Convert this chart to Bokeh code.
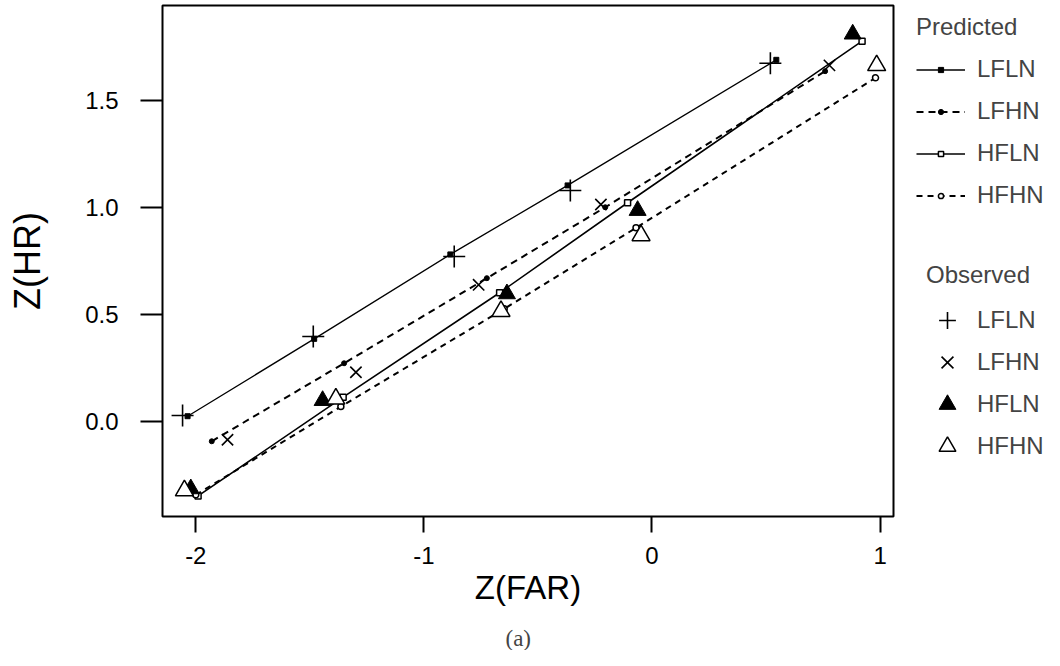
from bokeh.plotting import figure
from bokeh.models import (Range1d, FixedTicker, Legend, LegendItem, Title)
from bokeh.layouts import row
from bokeh.embed import file_html
from bokeh.resources import INLINE

# ---- data ----
series = ["LFLN", "LFHN", "HFLN", "HFHN"]

pred_lfln_x = [-2.036, -1.481, -0.884, -0.370, 0.545]
pred_lfln_y = [0.027, 0.388, 0.782, 1.104, 1.690]
pred_lfhn_x = [-1.930, -1.350, -0.724, -0.205, 0.759]
pred_lfhn_y = [-0.090, 0.274, 0.671, 1.002, 1.637]
pred_hfln_x = [-1.990, -1.354, -0.668, -0.107, 0.921]
pred_hfln_y = [-0.345, 0.116, 0.603, 1.023, 1.777]
pred_hfhn_x = [-2.000, -1.364, -0.648, -0.070, 0.980]
pred_hfhn_y = [-0.340, 0.072, 0.528, 0.906, 1.606]

obs_lfln_x = [-2.058, -1.485, -0.867, -0.358, 0.519]
obs_lfln_y = [0.030, 0.399, 0.772, 1.080, 1.674]
obs_lfhn_x = [-1.861, -1.298, -0.760, -0.224, 0.778]
obs_lfhn_y = [-0.083, 0.232, 0.640, 1.015, 1.664]
obs_hfln_x = [-2.022, -1.444, -0.636, -0.063, 0.880]
obs_hfln_y = [-0.312, 0.100, 0.598, 0.987, 1.810]
obs_hfhn_x = [-2.050, -1.386, -0.662, -0.048, 0.985]
obs_hfhn_y = [-0.320, 0.108, 0.517, 0.870, 1.664]

x_ticks = [-2, -1, 0, 1]
x_tick_labels = ["-2", "-1", "0", "1"]
y_ticks = [0.0, 0.5, 1.0, 1.5]
y_tick_labels = ["0.0", "0.5", "1.0", "1.5"]

pred_data = [(pred_lfln_x, pred_lfln_y), (pred_lfhn_x, pred_lfhn_y),
             (pred_hfln_x, pred_hfln_y), (pred_hfhn_x, pred_hfhn_y)]
obs_data = [(obs_lfln_x, obs_lfln_y), (obs_lfhn_x, obs_lfhn_y),
            (obs_hfln_x, obs_hfln_y), (obs_hfhn_x, obs_hfhn_y)]

# styles
line_styles = [dict(line_color="black", line_width=1.3),
               dict(line_color="black", line_width=2, line_dash="7 5"),
               dict(line_color="black", line_width=1.6),
               dict(line_color="black", line_width=2, line_dash="6 5")]
pred_marker_styles = [dict(marker="square", size=5, color="black"),
                      dict(marker="circle", size=5, color="black"),
                      dict(marker="square", size=6, line_color="black", fill_color="white", line_width=1.5),
                      dict(marker="circle", size=6, line_color="black", fill_color="white", line_width=1.5)]
obs_marker_styles = [dict(marker="cross", size=22, line_color="black", line_width=1.6),
                     dict(marker="x", size=16, line_color="black", line_width=1.6),
                     dict(marker="triangle", size=17, line_color="black", fill_color="black"),
                     dict(marker="triangle", size=18, line_color="black", fill_color="white", line_width=1.5)]

FONT = "Liberation Sans"

p = figure(width=903, height=650, output_backend="svg", toolbar_location=None,
           x_range=Range1d(-2.146, 1.0588), y_range=Range1d(-0.441, 1.9435),
           min_border_left=162, min_border_right=10, min_border_top=5,
           min_border_bottom=134)

p.grid.visible = False
p.outline_line_color = "black"
p.outline_line_width = 2
p.background_fill_color = "white"
p.border_fill_color = "white"

for ax in (p.xaxis[0], p.yaxis[0]):
    ax.axis_line_color = None
    ax.minor_tick_line_color = None
    ax.major_tick_in = 0
    ax.major_tick_line_width = 2
    ax.major_tick_line_color = "black"
    ax.major_label_text_font = FONT
    ax.major_label_text_font_size = "24px"
    ax.major_label_text_color = "black"
    ax.axis_label_text_font = FONT
    ax.axis_label_text_font_style = "normal"
    ax.axis_label_text_color = "black"

p.xaxis.ticker = FixedTicker(ticks=x_ticks)
p.xaxis.major_label_overrides = dict(zip(x_ticks, x_tick_labels))
p.xaxis.major_tick_out = 16
p.xaxis.major_label_standoff = 14
p.xaxis.axis_label = "Z(FAR)"
p.xaxis.axis_label_text_font_size = "33px"
p.xaxis.axis_label_standoff = 2

p.yaxis.ticker = FixedTicker(ticks=y_ticks)
p.yaxis.major_label_overrides = dict(zip(y_ticks, y_tick_labels))
p.yaxis.major_tick_out = 22
p.yaxis.major_label_standoff = 22
p.yaxis.axis_label = "Z(HR)"
p.yaxis.axis_label_text_font_size = "36px"
p.yaxis.axis_label_standoff = 34

for (xs, ys), ls, ms in zip(pred_data, line_styles, pred_marker_styles):
    p.line(xs, ys, **ls)
    p.scatter(xs, ys, **ms)
for (xs, ys), ms in zip(obs_data, obs_marker_styles):
    p.scatter(xs, ys, **ms)

# spacer + caption below the x axis
p.add_layout(Title(text=" ", text_font_size="1px", standoff=12), "below")
p.add_layout(Title(text="(a)", align="left", text_font="Liberation Serif",
                   text_font_size="23px", text_font_style="normal", offset=343,
                   vertical_align="bottom", standoff=0), "below")

# ---- legend panel (separate figure; its glyphs use the same data, kept out of view) ----
q = figure(width=141, height=650, output_backend="svg", toolbar_location=None,
           x_range=Range1d(100, 101), y_range=Range1d(100, 101),
           min_border_left=0, min_border_right=0, min_border_top=5, min_border_bottom=134)
q.axis.visible = False
q.grid.visible = False
q.outline_line_color = None
q.background_fill_color = "white"
q.border_fill_color = "white"

pred_items = []
for s, (xs, ys), ls, ms in zip(series, pred_data, line_styles, pred_marker_styles):
    lr = q.line(xs, ys, **ls)
    mr = q.scatter(xs, ys, **ms)
    pred_items.append(LegendItem(label=s, renderers=[lr, mr]))
obs_items = []
for s, (xs, ys), ms in zip(series, obs_data, obs_marker_styles):
    mr = q.scatter(xs, ys, **ms)
    obs_items.append(LegendItem(label=s, renderers=[mr]))


def style_legend(lg):
    lg.border_line_color = None
    lg.background_fill_alpha = 0
    lg.padding = 0
    lg.margin = 0
    lg.label_text_font = FONT
    lg.label_text_font_size = "24px"
    lg.title_text_font = FONT
    lg.title_text_font_size = "24px"
    lg.title_text_font_style = "normal"


pred_legend = Legend(items=pred_items, title="Predicted", location=(13, 306))
style_legend(pred_legend)
pred_legend.glyph_width = 49
pred_legend.glyph_height = 13
pred_legend.label_height = 30
pred_legend.spacing = 12
pred_legend.label_standoff = 12
pred_legend.title_standoff = 13

obs_legend = Legend(items=obs_items, title="Observed", location=(23, 49))
style_legend(obs_legend)
obs_legend.glyph_width = 42
obs_legend.glyph_height = 42
obs_legend.label_height = 42
obs_legend.spacing = 0
obs_legend.label_standoff = 9
obs_legend.title_standoff = 10

q.add_layout(pred_legend, "center")
q.add_layout(obs_legend, "center")

layout = row(p, q, spacing=0)
open("out.html", "w").write(file_html(layout, INLINE))
